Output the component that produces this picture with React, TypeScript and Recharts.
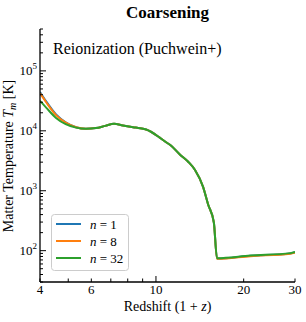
import React from "react";
import { LineChart, Line, XAxis, YAxis } from "recharts";

// redshift (1+z) sample points
const redshift = [4.0, 4.2, 4.54, 4.9, 5.32, 5.75, 6.22, 6.7, 7.18, 7.7, 8.35, 8.83, 9.25, 10.3, 10.8, 11.2, 12.1, 12.9, 13.6, 14.5, 15.1, 15.8, 16.2, 21.1, 28.9, 30];

// matter temperature [K] for each coarsening factor
const tempN1 = [44500, 31000, 18800, 13900, 11500, 10800, 11100, 12100, 13100, 12300, 11500, 11000, 10500, 7700, 6500, 5800, 4000, 3050, 2240, 1170, 590, 295, 74, 82, 90, 94];
const tempN8 = [42500, 30000, 18300, 13700, 11450, 10800, 11100, 12100, 13100, 12300, 11500, 11000, 10500, 7700, 6500, 5800, 4000, 3050, 2240, 1170, 590, 295, 73, 81, 89, 92];
const tempN32 = [31600, 24400, 16400, 12900, 11300, 10800, 11100, 12100, 13100, 12300, 11500, 11000, 10500, 7700, 6500, 5800, 4000, 3050, 2240, 1170, 590, 295, 75, 83, 91, 95];

const seriesNames = ["n1", "n8", "n32"];
const seriesLabels = ["1", "8", "32"];
const seriesColors = ["#1f77b4", "#ff7f0e", "#2ca02c"];

const xTicks = [4, 5, 6, 7, 8, 9, 10, 20, 30];
const xTickLabels = [4, 6, 10, 20, 30];
const xMajor = [10];
const xDomain = [4, 30];

const yMajor = [100, 1000, 10000, 100000];
const yDomain = [30, 500000];

const yTicks: number[] = [];
[10, 100, 1000, 10000, 100000].forEach((d) => {
  for (let k = 1; k <= 9; k++) {
    const v = d * k;
    if (v >= yDomain[0] && v <= yDomain[1]) yTicks.push(v);
  }
});

const data = redshift.map((z, i) => ({
  z,
  n1: tempN1[i],
  n8: tempN8[i],
  n32: tempN32[i],
}));

const FONT = "'Liberation Serif', 'Times New Roman', serif";
const serif = { fontFamily: FONT };

const XTickBottom = (props: any) => {
  const { x, y, payload } = props;
  const v = payload.value;
  const len = xMajor.includes(v) ? 6 : 3.5;
  return (
    <g>
      <line x1={x} x2={x} y1={y} y2={y - len} stroke="#000" strokeWidth={1} />
      {xTickLabels.includes(v) && (
        <text x={x} y={y + 12} textAnchor="middle" style={serif} fontSize={13} fill="#000">
          {v}
        </text>
      )}
    </g>
  );
};

const XTickTop = (props: any) => {
  const { x, y, payload } = props;
  const len = xMajor.includes(payload.value) ? 6 : 3.5;
  return <line x1={x} x2={x} y1={y} y2={y + len} stroke="#000" strokeWidth={1} />;
};

const YTickLeft = (props: any) => {
  const { x, y, payload } = props;
  const v = payload.value;
  const major = yMajor.includes(v);
  const len = major ? 6 : 3;
  return (
    <g>
      <line x1={x} x2={x + len} y1={y} y2={y} stroke="#000" strokeWidth={1} />
      {major && (
        <text x={x - 3} y={y + 4.5} textAnchor="end" style={serif} fontSize={13} fill="#000">
          10
          <tspan fontSize={9} dy={-6}>
            {Math.round(Math.log10(v))}
          </tspan>
        </text>
      )}
    </g>
  );
};

const YTickRight = (props: any) => {
  const { x, y, payload } = props;
  const len = yMajor.includes(payload.value) ? 6 : 3;
  return <line x1={x} x2={x - len} y1={y} y2={y} stroke="#000" strokeWidth={1} />;
};

const axisLine = { stroke: "#000", strokeWidth: 1.3 };

export default function App() {
  return (
    <div style={{ position: "absolute", left: 0, top: 0, width: 306, height: 322, background: "#fff" }}>
      <LineChart width={306} height={322} data={data} margin={{ top: 29, right: 11, bottom: 0, left: 0 }}>
        <XAxis
          dataKey="z"
          type="number"
          scale="log"
          domain={xDomain}
          allowDataOverflow
          ticks={xTicks}
          interval={0}
          tickSize={0}
          tickMargin={0}
          height={40}
          axisLine={axisLine}
          tick={<XTickBottom />}
        />
        <XAxis
          xAxisId="top"
          orientation="top"
          dataKey="z"
          type="number"
          scale="log"
          domain={xDomain}
          allowDataOverflow
          ticks={xTicks}
          interval={0}
          tickSize={0}
          tickMargin={0}
          height={0}
          axisLine={axisLine}
          tick={<XTickTop />}
        />
        <YAxis
          type="number"
          scale="log"
          domain={yDomain}
          allowDataOverflow
          ticks={yTicks}
          interval={0}
          tickSize={0}
          tickMargin={0}
          width={40}
          axisLine={axisLine}
          tick={<YTickLeft />}
        />
        <YAxis
          yAxisId="right"
          orientation="right"
          type="number"
          scale="log"
          domain={yDomain}
          allowDataOverflow
          ticks={yTicks}
          interval={0}
          tickSize={0}
          tickMargin={0}
          width={0}
          axisLine={axisLine}
          tick={<YTickRight />}
        />
        {seriesNames.map((name, i) => (
          <Line
            key={name}
            dataKey={name}
            type="monotone"
            stroke={seriesColors[i]}
            strokeWidth={2}
            dot={false}
            isAnimationActive={false}
          />
        ))}
      </LineChart>
      <svg
        width={306}
        height={322}
        style={{ position: "absolute", left: 0, top: 0, pointerEvents: "none", fontFamily: FONT }}
      >
        <text x={167.5} y={18} textAnchor="middle" style={serif} fontSize={17} fontWeight="bold">
          Coarsening
        </text>
        <text x={53} y={54} style={serif} fontSize={16}>
          Reionization (Puchwein+)
        </text>
        <text x={167.5} y={311} textAnchor="middle" style={serif} fontSize={14}>
          Redshift (1 + <tspan fontStyle="italic">z</tspan>)
        </text>
        <text transform="translate(12.5,156) rotate(-90)" textAnchor="middle" style={serif} fontSize={14}>
          Matter Temperature <tspan fontStyle="italic">T</tspan>
          <tspan fontStyle="italic" fontSize={10} dy={3}>m</tspan>
          <tspan dy={-3}> [K]</tspan>
        </text>
        <rect x={51.5} y={214.5} width={77} height={56} rx={3} fill="#fff" fillOpacity={0.8} stroke="#cccccc" />
        {seriesLabels.map((lab, i) => (
          <g key={lab}>
            <line x1={56} x2={81} y1={224 + i * 17} y2={224 + i * 17} stroke={seriesColors[i]} strokeWidth={2} />
            <text x={90} y={228.5 + i * 17} style={serif} fontSize={13}>
              <tspan fontStyle="italic">n</tspan> = {lab}
            </text>
          </g>
        ))}
      </svg>
    </div>
  );
}
